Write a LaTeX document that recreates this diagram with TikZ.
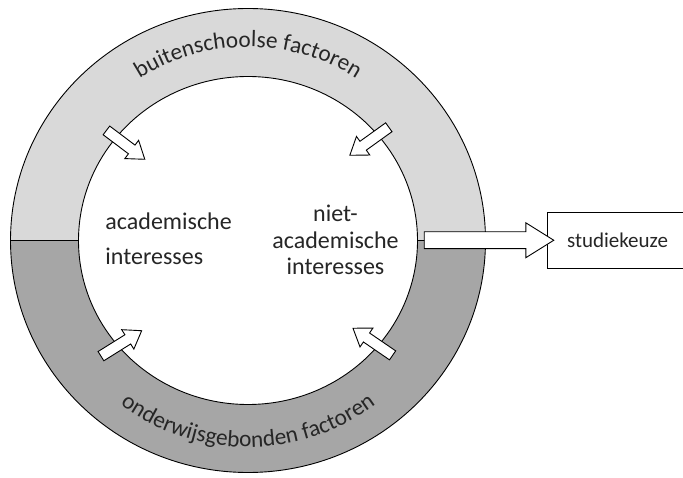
\documentclass[tikz,border=0pt]{standalone}
\usepackage{fontspec}
\setmainfont{Carlito}
\usetikzlibrary{shapes.geometric,shapes.arrows,decorations.text}
\definecolor{ringlight}{HTML}{D9D9D9}
\definecolor{ringdark}{HTML}{A6A6A6}
\definecolor{ink}{HTML}{262626}
\newcommand{\ringfont}{\fontsize{23.3}{23}\selectfont\color{ink}}
\begin{document}
\begin{tikzpicture}[x=1pt,y=1pt,line width=0.9pt,
  lbl/.style={font=\fontsize{24}{28}\selectfont, text=ink, inner sep=0},
  boxlbl/.style={font=\fontsize{21}{25}\selectfont, text=ink},
  smallarrow/.style={single arrow, draw, fill=white, minimum height=48pt,
    inner xsep=0pt, inner ysep=5pt, single arrow head extend=6pt,
    single arrow tip angle=70, outer sep=0pt},
  bigarrow/.style={single arrow, draw, fill=white, minimum height=129.5pt,
    inner xsep=0pt, inner ysep=8pt, single arrow head extend=9pt,
    single arrow tip angle=64, outer sep=0pt}]
\useasboundingbox (0,0) rectangle (683,477);
\coordinate (C) at (248,236.5);
% ring
\node[ellipse, draw, minimum width=475pt, minimum height=464pt, inner sep=0pt, outer sep=0pt,
  path picture={
    \fill[ringlight] (path picture bounding box.north west) rectangle (path picture bounding box.east);
    \fill[ringdark] (path picture bounding box.west) rectangle (path picture bounding box.south east);
  }] (outer) at (C) {};
\draw (outer.west) -- (outer.east);
\node[ellipse, draw, fill=white, minimum width=339pt, minimum height=328pt, inner sep=0pt, outer sep=0pt] (inner) at (C) {};
% ring labels
\path[decorate, decoration={text along path, text align=center,
  text={|\ringfont|buitenschoolse factoren}}]
  ([shift={(160:198pt and 193.5pt)}]C) arc[start angle=160, end angle=20, x radius=198pt, y radius=193.5pt];
\path[decorate, decoration={text along path, text align=center,
  text={|\ringfont|onderwijsgebonden factoren}}]
  ([shift={(200:211pt and 206.5pt)}]C) arc[start angle=200, end angle=340, x radius=211pt, y radius=206.5pt];
% inner texts
\node[lbl, anchor=base west] (acad1) at (105,247) {academische};
\node[lbl, anchor=base west] (acad2) at (105,212) {interesses};
\node[lbl, anchor=base] (niet1) at (335.5,255) {niet-};
\node[lbl, anchor=base] (niet2) at (335.5,228.5) {academische};
\node[lbl, anchor=base] (niet3) at (335.5,202) {interesses};
% small arrows
\node[smallarrow, rotate=-37] (a1) at (122.5,334.5) {};
\node[smallarrow, rotate=-144.3] (a2) at (372.5,338) {};
\node[smallarrow, rotate=32] (a3) at (118,131.5) {};
\node[smallarrow, rotate=145.6] (a4) at (376,133) {};
% outcome box
\node[draw, fill=white, minimum width=141pt, minimum height=56pt, inner sep=0pt, outer sep=0pt, boxlbl] (box) at (617.5,237) {studiekeuze};
\path (inner.east) -- (box.west) node[midway, bigarrow] (flow) {};
\end{tikzpicture}
\end{document}
